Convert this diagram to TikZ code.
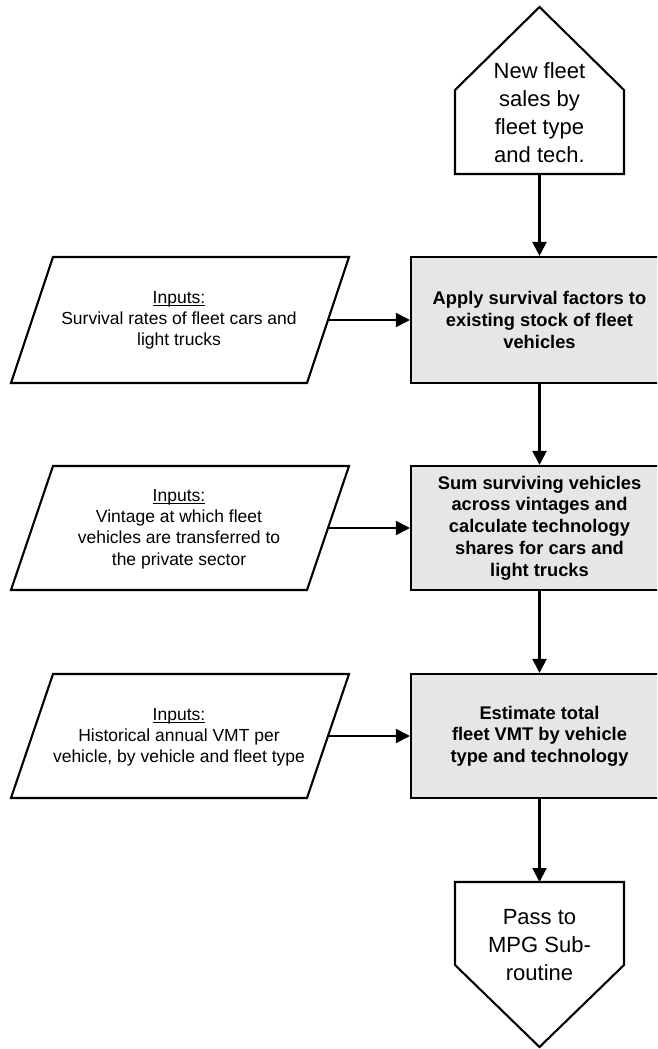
\documentclass[tikz,border=0pt]{standalone}
\usepackage{fontspec}
\setmainfont{Liberation Sans}
\usetikzlibrary{arrows.meta}
\definecolor{boxgray}{RGB}{230,230,230}
\newcommand\myul[1]{\setbox0=\hbox{#1}\rlap{\rule[-2.8pt]{\wd0}{1pt}}\box0}
\tikzset{
  procbox/.style={draw, fill=boxgray, line width=2.1pt, minimum width=257pt, inner sep=0pt, align=center,
    font=\fontsize{18.3}{21.7}\selectfont\bfseries},
  inptext/.style={align=center, inner sep=0pt, font=\fontsize{17.5}{21.2}\selectfont},
  pentext/.style={align=center, inner sep=0pt, font=\fontsize{22}{28}\selectfont},
  outline/.style={draw, line width=2.1pt, line join=miter, fill=white},
  flow/.style={line width=2.1pt, -{Triangle[length=14pt,width=14pt]}}
}
\begin{document}
\begin{tikzpicture}[x=1pt,y=-1pt]
\useasboundingbox (0,0) rectangle (657,1049);
\clip (0,0) rectangle (657,1049);
% top pentagon
\draw[outline] (455,90) -- (539.5,7) -- (624,90) -- (624,174) -- (455,174) -- cycle;
\node[pentext] (sales) at (539.5,113) {New fleet\\sales by\\fleet type\\and tech.};
\coordinate (salesb) at (539.5,174);
% boxes
\node[procbox, minimum height=126pt] (b1) at (539.5,320) {Apply survival factors to\\existing stock of fleet\\vehicles};
\node[procbox, minimum height=124pt] (b2) at (539.5,528) {Sum surviving vehicles\\across vintages and\\calculate technology\\shares for cars and\\light trucks};
\node[procbox, minimum height=124pt] (b3) at (539.5,736) {Estimate total\\fleet VMT by vehicle\\type and technology};
% parallelograms
\draw[outline] (53,257) -- (349,257) -- (307,383) -- (11,383) -- cycle;
\node[inptext] (in1) at (179,320) {\myul{Inputs:}\\Survival rates of fleet cars and\\light trucks};
\coordinate (in1r) at (328,320);
\draw[outline] (53,466) -- (349,466) -- (307,590) -- (11,590) -- cycle;
\node[inptext] (in2) at (179,529) {\myul{Inputs:}\\Vintage at which fleet\\vehicles are transferred to\\the private sector};
\coordinate (in2r) at (328,528);
\draw[outline] (53,674) -- (349,674) -- (307,798) -- (11,798) -- cycle;
\node[inptext] (in3) at (179,737) {\myul{Inputs:}\\Historical annual VMT per\\vehicle, by vehicle and fleet type};
\coordinate (in3r) at (328,736);
% bottom pentagon
\draw[outline] (455,882) -- (624,882) -- (624,965) -- (539.5,1047) -- (455,965) -- cycle;
\node[pentext] (mpg) at (539.5,945) {Pass to\\MPG Sub-\\routine};
\coordinate (mpgt) at (539.5,882);
% connectors
\draw[flow] (salesb) -- (b1.north);
\draw[flow] (b1.south) -- (b2.north);
\draw[flow] (b2.south) -- (b3.north);
\draw[flow] (b3.south) -- (mpgt);
\draw[flow] (in1r) -- (b1.west);
\draw[flow] (in2r) -- (b2.west);
\draw[flow] (in3r) -- (b3.west);
\end{tikzpicture}
\end{document}
